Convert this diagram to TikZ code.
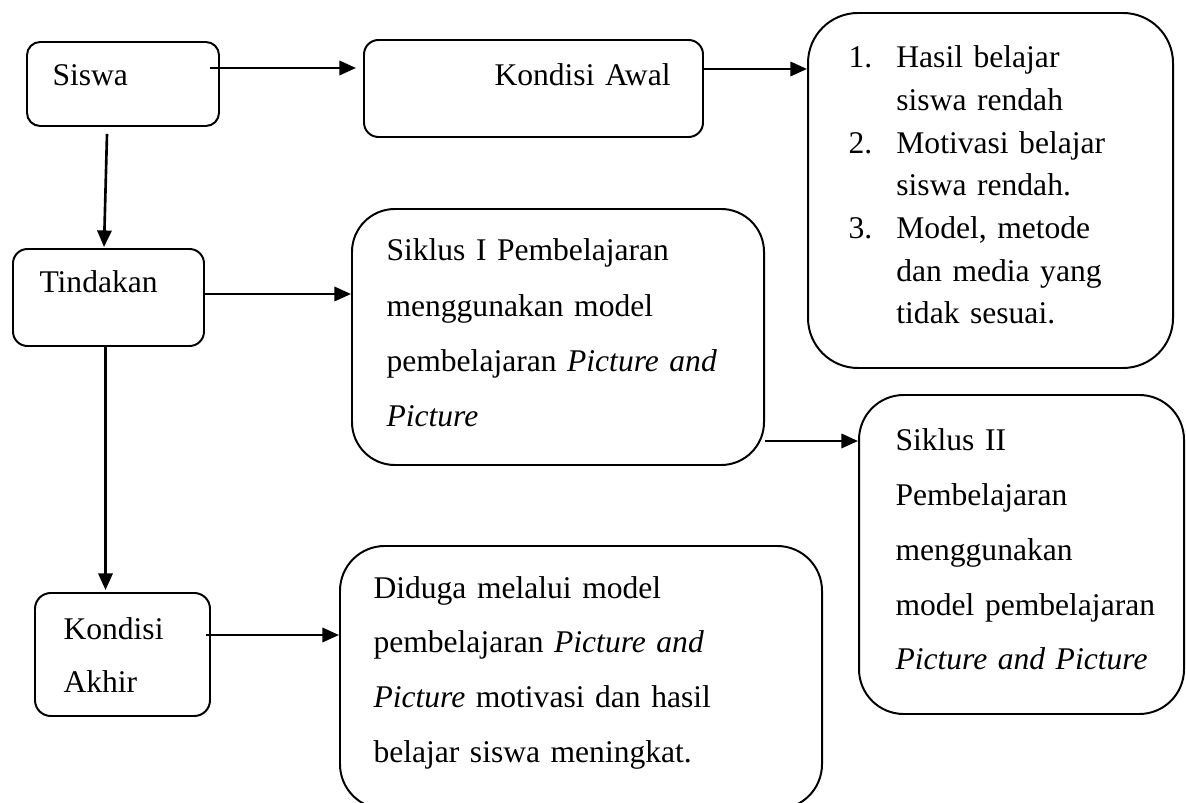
\documentclass[tikz,border=0pt]{standalone}
\usepackage{fontspec}
\setmainfont{Liberation Serif}
\usetikzlibrary{arrows.meta,calc}

\begin{document}
\begin{tikzpicture}[
  x=0.38pt,y=-0.38pt,
  box/.style={draw,line width=0.75pt,inner sep=0pt,rounded corners=#1},
  size/.style 2 args={minimum width=#1*0.38pt,minimum height=#2*0.38pt},
  txt/.style={anchor=base west,inner sep=0pt,text width=220pt,align=left,font=\fontsize{12}{#1}\selectfont},
  txt/.default=14,
  arr/.style={-{Triangle[length=6.3pt,width=5.4pt]},line width=1pt}
]
\useasboundingbox (0,0) rectangle (1186,803);
% boxes
\node[box=5pt,size={192}{84}] (siswa) at (123,84) {};
\node[box=5.5pt,size={339}{97}] (awal) at (533.5,88.5) {};
\node[box=19pt,size={365}{355}] (masalah) at (990.5,190.5) {};
\node[box=5.5pt,size={191}{97}] (tind) at (108.5,297.5) {};
\node[box=16.3pt,size={412}{256}] (sik1) at (558,337) {};
\node[box=17pt,size={325}{319}] (sik2) at (1021.5,554.5) {};
\node[box=6pt,size={175}{123}] (akhir) at (122.5,654.5) {};
\node[box=17pt,size={482}{263}] (duga) at (581,677.5) {};
% texts
\node[txt] (siswa-t) at (52,86) {Siswa};
\node[txt] (awal-t) at (494,86) {Kondisi Awal};
\node[txt=16.2] (masalah-t) at (848,68) {%
  \makebox[18.2pt][l]{1.}Hasil belajar\\
  \hspace*{18.2pt}siswa rendah\\
  \makebox[18.2pt][l]{2.}Motivasi belajar\\
  \hspace*{18.2pt}siswa rendah.\\
  \makebox[18.2pt][l]{3.}Model, metode\\
  \hspace*{18.2pt}dan media yang\\
  \hspace*{18.2pt}tidak sesuai.};
\node[txt] (tind-t) at (39,293) {Tindakan};
\node[txt=21] (sik1-t) at (386,261) {Siklus I Pembelajaran\\
  menggunakan model\\
  pembelajaran \textit{Picture and}\\
  \textit{Picture}};
\node[txt=20.8] (sik2-t) at (895,451) {Siklus II\\
  Pembelajaran\\
  menggunakan\\
  model pembelajaran\\
  \textit{Picture and Picture}};
\node[txt=20.5] (akhir-t) at (63,639) {Kondisi\\Akhir};
\node[txt=20.9] (duga-t) at (373,598) {Diduga melalui model\\
  pembelajaran \textit{Picture and}\\
  \textit{Picture} motivasi dan hasil\\
  belajar siswa meningkat.};
% arrows
\draw[arr] ($(siswa.east)+(-10,-16)$) -- ($(awal.west)+(-7,-20.5)$);
\draw[arr] ($(awal.east)+(0,-19.5)$) -- ($(masalah.west)+(0,-121.5)$);
\draw[arr] ($(siswa.south)+(-16,7)$) -- ($(tind.north)+(-4.5,-1)$);
\draw[arr] ($(tind.east)+(0,-3.5)$) -- ($(sik1.west)+(0,-43)$);
\draw[arr] ($(tind.south)+(-3,0)$) -- ($(akhir.north)+(-17,-2)$);
\draw[arr] ($(sik1.east)+(0,104)$) -- ($(sik2.west)+(0,-113.5)$);
\draw[arr] ($(akhir.east)+(-5,-19.5)$) -- ($(duga.west)+(0,-42.5)$);
\end{tikzpicture}
\end{document}
